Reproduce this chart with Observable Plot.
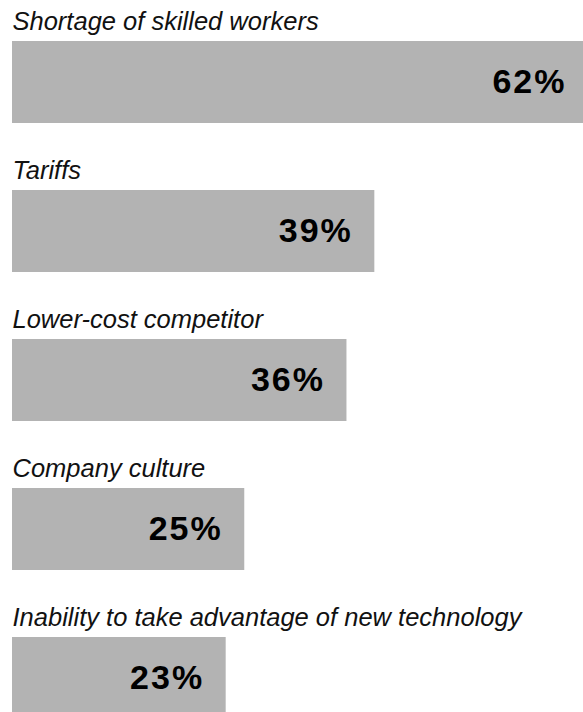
<!DOCTYPE html>
<html>
<head>
<meta charset="utf-8">
<script src="https://cdn.jsdelivr.net/npm/d3@7"></script>
<script src="https://cdn.jsdelivr.net/npm/@observablehq/plot@0.6"></script>
<style>
  html, body { margin: 0; padding: 0; background: #fff; overflow: hidden; }
  #chart svg { overflow: visible; display: block; }
  .vlabel text { letter-spacing: 2px; }
</style>
</head>
<body>
<div id="chart"></div>
<script>
const categories = [
  "Shortage of skilled workers",
  "Tariffs",
  "Lower-cost competitor",
  "Company culture",
  "Inability to take advantage of new technology"
];
const values = [62, 39, 36, 25, 23];
const valueLabels = ["62%", "39%", "36%", "25%", "23%"];

const data = categories.map((c, i) => ({category: c, value: values[i], label: valueLabels[i]}));

const chart = Plot.plot({
  width: 583,
  height: 712,
  margin: 0,
  style: {fontFamily: "'Liberation Sans', Arial, sans-serif", background: "#fff", overflow: "visible"},
  x: {domain: [0, 62], range: [12, 588], axis: null},
  y: {type: "band", domain: categories, range: [40, 719], paddingInner: 0.45, paddingOuter: 0, axis: null},
  marks: [
    Plot.barX(data, {x: "value", y: "category", fill: "#b3b3b3"}),
    Plot.text(data, {
      x: 0, y: "category", text: "category",
      textAnchor: "start", lineAnchor: "bottom", dy: -53,
      fontSize: 25.5, fontStyle: "italic", fill: "#111"
    }),
    Plot.text(data, {
      x: "value", y: "category", text: "label",
      textAnchor: "end", lineAnchor: "middle", dx: -22,
      fontSize: 34, fontWeight: "bold", fill: "#000",
      className: "vlabel"
    })
  ]
});
document.getElementById("chart").appendChild(chart);
</script>
</body>
</html>
